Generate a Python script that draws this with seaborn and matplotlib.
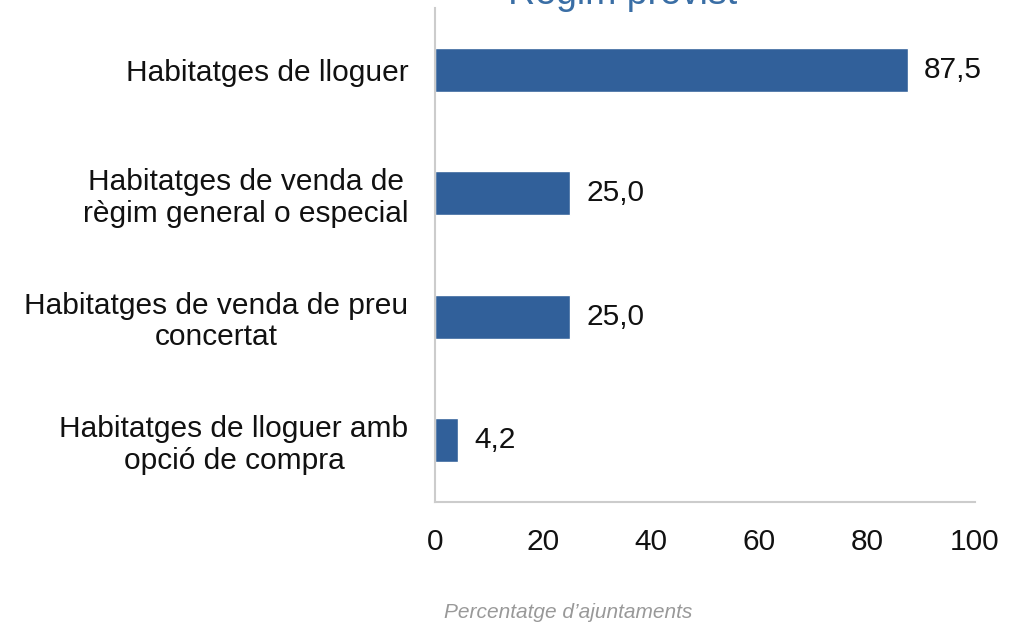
import matplotlib
matplotlib.use("Agg")
import matplotlib.pyplot as plt
import seaborn as sns
import pandas as pd

categories = [
    "Habitatges de lloguer",
    "Habitatges de venda de\nrègim general o especial",
    "Habitatges de venda de preu\nconcertat",
    "Habitatges de lloguer amb\nopció de compra",
]
values = [87.5, 25.0, 25.0, 4.2]
value_labels = ["87,5", "25,0", "25,0", "4,2"]
xticks = [0, 20, 40, 60, 80, 100]

sns.set_theme(style="white")
plt.rcParams['font.family'] = ['Liberation Sans', 'DejaVu Sans']

df = pd.DataFrame({"cat": categories, "val": values})

fig = plt.figure(figsize=(10.25, 6.24), dpi=100)
ax = fig.add_axes([435/1025, 1-502/624, 540/1025, 494/624])
sns.barplot(data=df, y="cat", x="val", orient="h", color="#31609a",
            saturation=1, width=0.36, ax=ax)

FS = 21.5
ax.set_xlim(0, 100)
ax.set_xticks(xticks)
ax.set_xticklabels([str(t) for t in xticks], fontsize=FS, color="#111111")
ax.tick_params(axis="x", length=0, pad=19)
ax.tick_params(axis="y", length=0, pad=19)
for lbl in ax.get_yticklabels():
    lbl.set_fontsize(FS)
    lbl.set_ha("right")
    lbl.set_multialignment("center")
    lbl.set_color("#111111")
    lbl.set_linespacing(1.15)

for i, (v, t) in enumerate(zip(values, value_labels)):
    ax.text(v + 3.1, i, t, va="center", ha="left", fontsize=FS, color="#111111")

ax.set_ylabel("")
ax.set_xlabel("")
for s in ["top", "right"]:
    ax.spines[s].set_visible(False)
ax.spines["left"].set_color("#cccccc")
ax.spines["bottom"].set_color("#cccccc")
ax.spines["left"].set_linewidth(1.5)
ax.spines["bottom"].set_linewidth(1.5)

fig.text(568/1025, 1-612/624, "Percentatge d\u2019ajuntaments", ha="center", va="center",
         fontsize=15, style="italic", color="#999999")
fig.text(623/1025, 1-(-6)/624, "Règim previst", ha="center", va="center",
         fontsize=27, color="#3a6ea5")

fig.savefig("out.png", dpi=100)
